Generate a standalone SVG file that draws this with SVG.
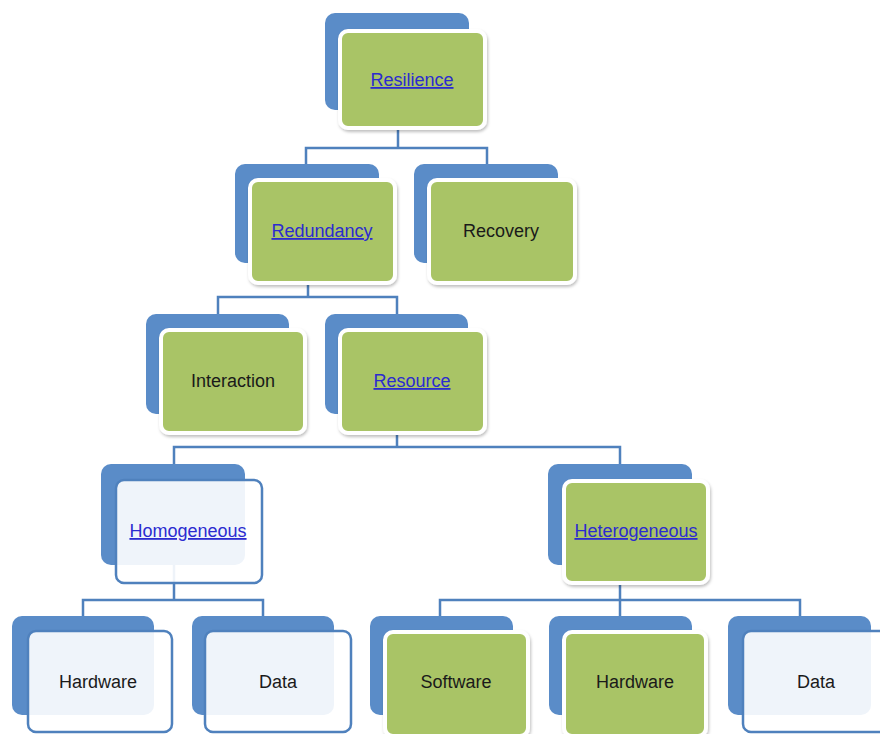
<svg xmlns="http://www.w3.org/2000/svg" width="880" height="734" viewBox="0 0 880 734">
<defs>
<filter id="sh" x="-10%" y="-10%" width="125%" height="125%">
<feDropShadow dx="1" dy="2" stdDeviation="1.5" flood-color="#000" flood-opacity="0.25"/>
</filter>
<style>
.back{fill:#5a8cc8;}
.green{fill:#a9c466;stroke:#fff;stroke-width:4;filter:url(#sh);}
.light{fill:#fff;fill-opacity:0.9;stroke:#4f81bd;stroke-width:2.5;}
.conn{fill:none;stroke:#4f81bd;stroke-width:2.5;}
text{font-family:"Liberation Sans",Arial,sans-serif;font-size:18px;text-anchor:middle;}
.lnk{fill:#2b2bd0;text-decoration:underline;}
.txt{fill:#1a1a1a;}
</style>
</defs>
<rect width="880" height="734" fill="#fff"/>
<g id="connectors">
<path class="conn" d="M398,130V148M306,164V148H487V164"/>
<path class="conn" d="M308,285V297M218,314V297H397V314"/>
<path class="conn" d="M397,435V447M174,464V447H620V464"/>
<path class="conn" d="M174,565V600M83,616V600H263V616"/>
<path class="conn" d="M620,585V600M440,616V600H800V616M620,600V616"/>
</g>
<g id="resilience">
<rect class="back" x="325" y="13" width="144" height="97" rx="10"/>
<rect class="green" x="340" y="31" width="145" height="97" rx="8"/>
<text class="lnk" x="412" y="86">Resilience</text>
</g>
<g id="redundancy">
<rect class="back" x="235" y="164" width="144" height="99" rx="10"/>
<rect class="green" x="250" y="180" width="145" height="103" rx="8"/>
<text class="lnk" x="322" y="237">Redundancy</text>
</g>
<g id="recovery">
<rect class="back" x="414" y="164" width="144" height="99" rx="10"/>
<rect class="green" x="429" y="180" width="146" height="103" rx="8"/>
<text class="txt" x="501" y="237">Recovery</text>
</g>
<g id="interaction">
<rect class="back" x="146" y="314" width="143" height="100" rx="10"/>
<rect class="green" x="161" y="330" width="144" height="103" rx="8"/>
<text class="txt" x="233" y="387">Interaction</text>
</g>
<g id="resource">
<rect class="back" x="325" y="314" width="143" height="100" rx="10"/>
<rect class="green" x="340" y="330" width="145" height="103" rx="8"/>
<text class="lnk" x="412" y="387">Resource</text>
</g>
<g id="homogeneous">
<rect class="back" x="101" y="464" width="144" height="101" rx="10"/>
<rect class="light" x="116" y="480" width="146" height="103" rx="8"/>
<text class="lnk" x="188" y="537">Homogeneous</text>
</g>
<g id="heterogeneous">
<rect class="back" x="548" y="464" width="144" height="101" rx="10"/>
<rect class="green" x="564" y="481" width="144" height="102" rx="8"/>
<text class="lnk" x="636" y="537">Heterogeneous</text>
</g>
<g id="hardware-left">
<rect class="back" x="12" y="616" width="142" height="99" rx="10"/>
<rect class="light" x="28" y="631" width="144" height="101" rx="8"/>
<text class="txt" x="98" y="688">Hardware</text>
</g>
<g id="data-left">
<rect class="back" x="192" y="616" width="142" height="99" rx="10"/>
<rect class="light" x="205" y="631" width="146" height="101" rx="8"/>
<text class="txt" x="278" y="688">Data</text>
</g>
<g id="software">
<rect class="back" x="370" y="616" width="143" height="99" rx="10"/>
<rect class="green" x="385" y="632" width="143" height="104" rx="8"/>
<text class="txt" x="456" y="688">Software</text>
</g>
<g id="hardware-right">
<rect class="back" x="549" y="616" width="143" height="99" rx="10"/>
<rect class="green" x="564" y="632" width="142" height="104" rx="8"/>
<text class="txt" x="635" y="688">Hardware</text>
</g>
<g id="data-right">
<rect class="back" x="728" y="616" width="143" height="99" rx="10"/>
<rect class="light" x="743" y="631" width="146" height="101" rx="8"/>
<text class="txt" x="816" y="688">Data</text>
</g>
</svg>
